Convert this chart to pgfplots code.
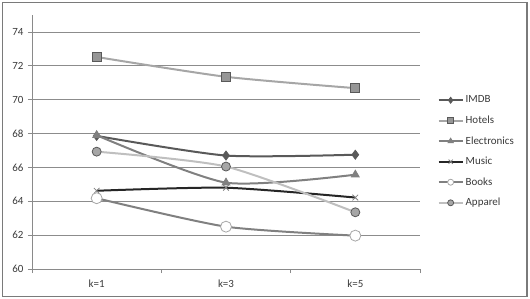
\documentclass[border=0pt]{standalone}
\usepackage{pgfplots}
\pgfplotsset{compat=1.18}
\usepackage{fontspec}
\setmainfont{Carlito}
\definecolor{axisgray}{HTML}{8A8A8A}
\definecolor{gridgray}{HTML}{8C8C8C}
\definecolor{framegray}{HTML}{7A7A7A}
\definecolor{labelgray}{HTML}{3A3A3A}
\definecolor{cIMDB}{HTML}{595959}
\definecolor{cHotelLine}{HTML}{A6A6A6}
\definecolor{cHotelFill}{HTML}{969696}
\definecolor{cElec}{HTML}{808080}
\definecolor{cMusic}{HTML}{262626}
\definecolor{cBooks}{HTML}{808080}
\definecolor{cApparelLine}{HTML}{BFBFBF}
\definecolor{cApparelFill}{HTML}{A6A6A6}
\begin{document}
\begin{tikzpicture}
\begin{axis}[name=ax, scale only axis, width=388bp, height=254bp,
  xmin=0, xmax=3, ymin=60, ymax=75,
  xtick={0.5,1.5,2.5}, xticklabels={k=1,k=3,k=5},
  minor xtick={0,1,2,3},
  ytick={60,62,...,74},
  axis x line*=bottom, axis y line*=left,
  axis line style={draw=axisgray, line width=0.8bp, -},
  ymajorgrids, grid style={draw=gridgray, line width=0.8bp},
  tick align=outside,
  major tick length=4bp, minor tick length=4bp,
  tick style={draw=axisgray, line width=0.8bp},
  every major x tick/.append style={draw=none},
  ticklabel style={font=\fontsize{11}{13}\selectfont, text=labelgray},
  xticklabel style={yshift=-3bp},
  yticklabel style={xshift=-1bp},
  /pgf/number format/assume math mode=true,
  legend style={draw=none, fill=none, at={(axis description cs:1.045,0.462)}, anchor=west,
    font=\fontsize{11}{13}\selectfont, row sep=7.5bp, inner sep=0pt, text=labelgray},
  legend cell align=left,
  legend image code/.code={\draw[mark repeat=2,mark phase=2,#1, mark size=3bp] plot coordinates {(0bp,0bp)(12bp,0bp)(24bp,0bp)};},
  every axis plot/.append style={line width=2bp, smooth, tension=0.4},
]
\addplot[color=cIMDB, mark=diamond*, mark size=4.5bp, mark options={line width=0.8bp, fill=cIMDB}]
  coordinates {(0.5,67.86) (1.5,66.7) (2.5,66.75)};
\addlegendentry{IMDB}
\addplot[color=cHotelLine, mark=square*, mark size=4.5bp, mark options={line width=0.8bp, draw=cIMDB, fill=cHotelFill}]
  coordinates {(0.5,72.52) (1.5,71.35) (2.5,70.68)};
\addlegendentry{Hotels}
\addplot[color=cElec, mark=triangle*, mark size=4.5bp, mark options={line width=0.8bp, fill=cElec}]
  coordinates {(0.5,67.9) (1.5,65.1) (2.5,65.57)};
\addlegendentry{Electronics}
\addplot[color=cMusic, mark=x, mark size=4bp, mark options={line width=0.8bp, draw=cElec}]
  coordinates {(0.5,64.62) (1.5,64.8) (2.5,64.22)};
\addlegendentry{Music}
\addplot[color=cBooks, mark=*, mark size=5.5bp, mark options={line width=0.8bp, draw=cHotelLine, fill=white}]
  coordinates {(0.5,64.18) (1.5,62.5) (2.5,61.97)};
\addlegendentry{Books}
\addplot[color=cApparelLine, mark=*, mark size=4.5bp, mark options={line width=0.8bp, draw=cIMDB, fill=cApparelFill}]
  coordinates {(0.5,66.93) (1.5,66.05) (2.5,63.35)};
\addlegendentry{Apparel}
\end{axis}
\pgfresetboundingbox
\path[use as bounding box] ([xshift=-32bp,yshift=-30bp]ax.south west) rectangle ([xshift=498bp,yshift=269bp]ax.south west);
\draw[framegray, line width=1.2bp] ([xshift=-29.5bp,yshift=-27.5bp]ax.south west) rectangle ([xshift=495bp,yshift=266.5bp]ax.south west);
\end{tikzpicture}
\end{document}
